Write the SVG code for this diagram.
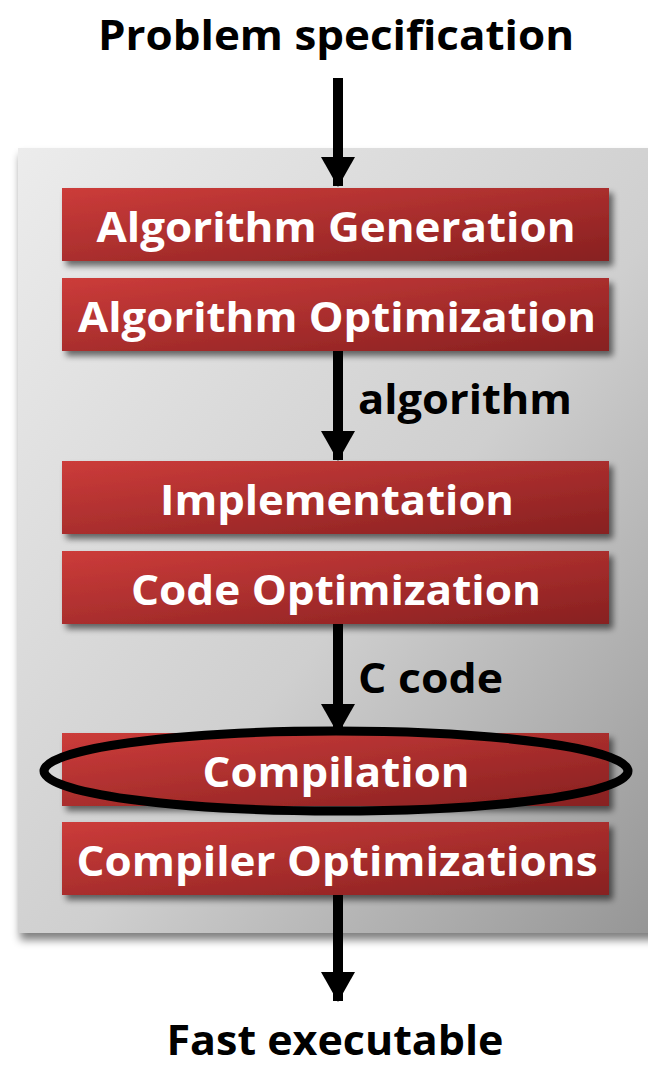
<svg xmlns="http://www.w3.org/2000/svg" width="648" height="1066" viewBox="0 0 648 1066">
  <defs>
    <linearGradient id="panelFill" x1="0" y1="0" x2="1" y2="1">
      <stop offset="0" stop-color="#ececec"/>
      <stop offset="0.55" stop-color="#cfcfcf"/>
      <stop offset="1" stop-color="#959595"/>
    </linearGradient>
    <linearGradient id="boxFill" x1="0" y1="0" x2="1" y2="1">
      <stop offset="0" stop-color="#cc3c3a"/>
      <stop offset="1" stop-color="#872020"/>
    </linearGradient>
    <filter id="shadow" x="-10%" y="-30%" width="120%" height="170%">
      <feGaussianBlur in="SourceAlpha" stdDeviation="3"/>
      <feOffset dx="4" dy="5" result="b"/>
      <feComponentTransfer><feFuncA type="linear" slope="0.55"/></feComponentTransfer>
      <feMerge><feMergeNode/><feMergeNode in="SourceGraphic"/></feMerge>
    </filter>
    <filter id="panelShadow" x="-5%" y="-5%" width="110%" height="110%">
      <feGaussianBlur in="SourceAlpha" stdDeviation="4"/>
      <feOffset dx="2" dy="7"/>
      <feComponentTransfer><feFuncA type="linear" slope="0.5"/></feComponentTransfer>
      <feMerge><feMergeNode/><feMergeNode in="SourceGraphic"/></feMerge>
    </filter>
    <marker id="arrow" viewBox="0 0 30 34" refX="29" refY="17" markerUnits="userSpaceOnUse" markerWidth="30" markerHeight="34" orient="auto">
      <path d="M0,0 L30,17 L0,34 Z" fill="#000"/>
    </marker>
  </defs>
  <style>
    .box { fill: url(#boxFill); filter: url(#shadow); }
    .boxText { font-family: "Open Sans", "Liberation Sans", sans-serif; font-weight: bold; font-size: 42px; fill: #fff; text-anchor: middle; }
    .label { font-family: "Open Sans", "Liberation Sans", sans-serif; font-weight: bold; font-size: 42px; fill: #000; }
    .edge { stroke: #000; stroke-width: 10; fill: none; marker-end: url(#arrow); }
  </style>

  <!-- grey backdrop panel behind the pipeline stages -->
  <rect x="18" y="148" width="640" height="785" fill="url(#panelFill)" filter="url(#panelShadow)"/>

  <text class="label" x="336" y="50" text-anchor="middle" textLength="476" lengthAdjust="spacingAndGlyphs">Problem specification</text>

  <g id="connectors">
    <line class="edge" x1="338" y1="78" x2="338" y2="186"/>
    <line class="edge" x1="338" y1="351" x2="338" y2="460"/>
    <line class="edge" x1="338" y1="624" x2="338" y2="733"/>
    <line class="edge" x1="338" y1="895" x2="338" y2="1001"/>
    <text class="label" x="358" y="414" textLength="214" lengthAdjust="spacingAndGlyphs">algorithm</text>
    <text class="label" x="358" y="693" textLength="145" lengthAdjust="spacingAndGlyphs">C code</text>
  </g>

  <g id="algorithm-generation">
    <rect class="box" x="62" y="188" width="547" height="73"/>
    <text class="boxText" x="336" y="242" textLength="479" lengthAdjust="spacingAndGlyphs">Algorithm Generation</text>
  </g>
  <g id="algorithm-optimization">
    <rect class="box" x="62" y="278" width="547" height="73"/>
    <text class="boxText" x="337" y="332" textLength="518" lengthAdjust="spacingAndGlyphs">Algorithm Optimization</text>
  </g>
  <g id="implementation">
    <rect class="box" x="62" y="461" width="547" height="73"/>
    <text class="boxText" x="337" y="515" textLength="354" lengthAdjust="spacingAndGlyphs">Implementation</text>
  </g>
  <g id="code-optimization">
    <rect class="box" x="62" y="551" width="547" height="73"/>
    <text class="boxText" x="336" y="605" textLength="410" lengthAdjust="spacingAndGlyphs">Code Optimization</text>
  </g>
  <g id="compilation">
    <rect class="box" x="62" y="733" width="547" height="73"/>
    <text class="boxText" x="336" y="787" textLength="267" lengthAdjust="spacingAndGlyphs">Compilation</text>
    <ellipse cx="336" cy="771" rx="292" ry="40" fill="none" stroke="#000" stroke-width="9"/>
  </g>
  <g id="compiler-optimizations">
    <rect class="box" x="62" y="822" width="547" height="73"/>
    <text class="boxText" x="337" y="876" textLength="521" lengthAdjust="spacingAndGlyphs">Compiler Optimizations</text>
  </g>

  <text class="label" x="335" y="1055" text-anchor="middle" font-size="40" textLength="337" lengthAdjust="spacingAndGlyphs">Fast executable</text>
</svg>
